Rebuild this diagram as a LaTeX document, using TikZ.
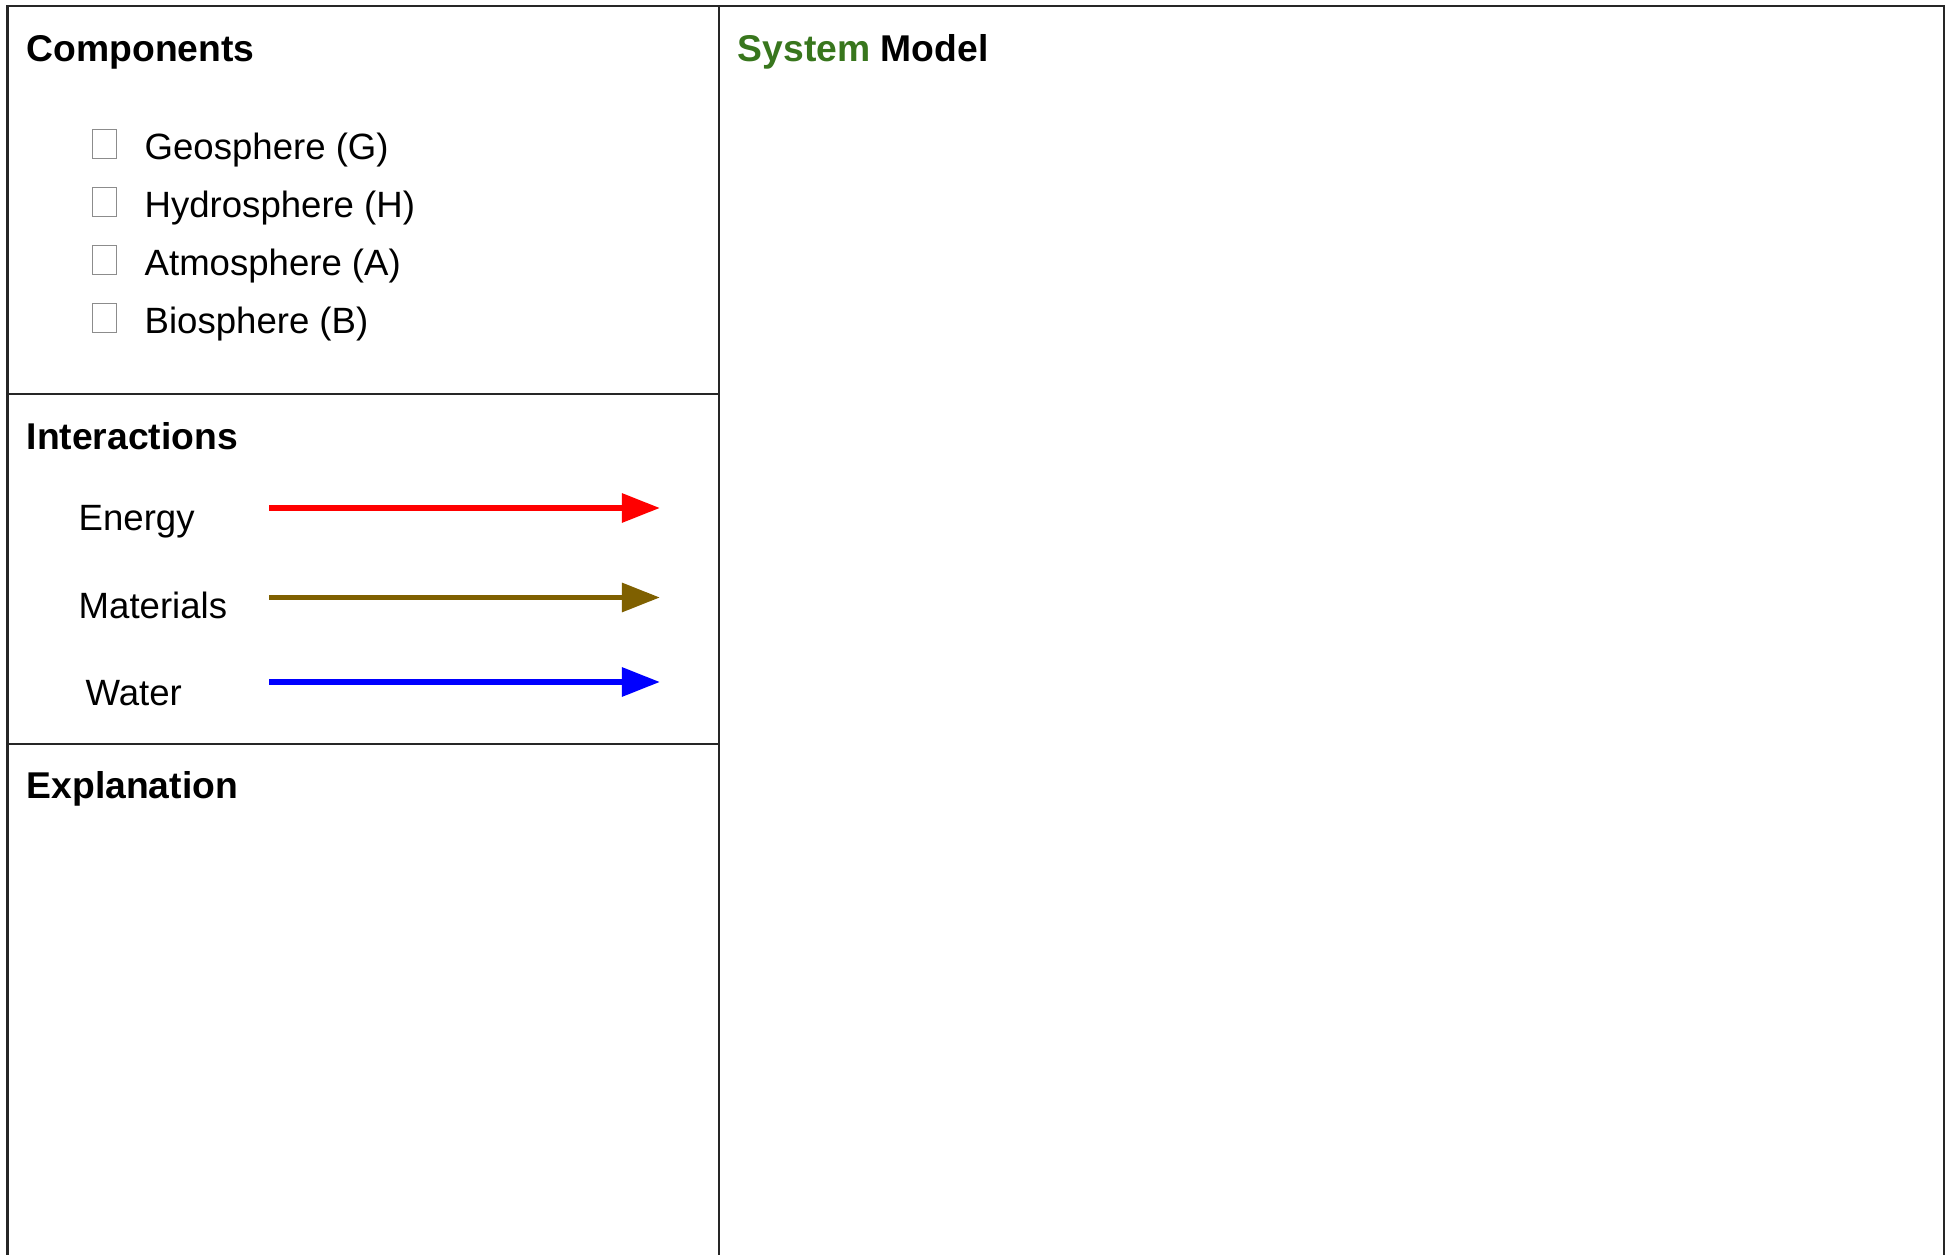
\documentclass[tikz,border=0pt]{standalone}
\usepackage{fontspec}
\setmainfont{Liberation Sans}
\usetikzlibrary{arrows.meta,positioning}
\definecolor{modelgreen}{HTML}{38761D}
\definecolor{matbrown}{HTML}{7F6000}

\begin{document}
\begin{tikzpicture}[
  x=0.01cm, y=-0.01cm,
  hd/.style={anchor=base west, inner sep=0pt, font=\fontsize{10.6}{12}\selectfont\bfseries},
  it/.style={anchor=base west, inner sep=0pt, font=\fontsize{10.4}{12}\selectfont},
  cb/.style={draw=black!45, line width=0.4pt, minimum width=0.24cm, minimum height=0.29cm, inner sep=0pt, anchor=south west},
  fr/.style={line width=0.75pt, draw=black!85},
  ia/.style={-{Triangle[length=0.38cm, width=0.28cm]}, line width=1.7pt},
]
\useasboundingbox (0,0) rectangle (1950,1255);
% panel frame
\draw[fr] (7.5,1255) |- (1944,6) -- (1944,1255);
\draw[fr] (719,6) -- (719,1255);
\draw[fr] (7.5,394) -- (719,394);
\draw[fr] (7.5,744) -- (719,744);
% components
\node[hd] (comp) at (26,61.5) {Components};
\node[cb] (cbG) at (92,159) {};
\node[cb] (cbH) at (92,217) {};
\node[cb] (cbA) at (92,275) {};
\node[cb] (cbB) at (92,333) {};
\node[it] (geo) at (144,160) {Geosphere (G)};
\node[it] (hyd) at (144,218) {Hydrosphere (H)};
\node[it] (atm) at (144,276) {Atmosphere (A)};
\node[it] (bio) at (144,334) {Biosphere (B)};
% interactions
\node[hd] (inter) at (26,450) {Interactions};
\node[it] (en) at (78,531) {Energy};
\node[it] (mat) at (78,619) {Materials};
\node[it] (wat) at (85,706) {Water};
\coordinate (enA) at (269,508); \coordinate (enB) at (660,508);
\coordinate (matA) at (269,597.5); \coordinate (matB) at (660,597.5);
\coordinate (watA) at (269,682); \coordinate (watB) at (660,682);
\draw[ia, red] (enA) -- (enB);
\draw[ia, matbrown] (matA) -- (matB);
\draw[ia, blue] (watA) -- (watB);
% explanation, model
\node[hd] (expl) at (26,798.5) {Explanation};
\node[hd] (model) at (737,62) {\textcolor{modelgreen}{System} Model};
\end{tikzpicture}
\end{document}
